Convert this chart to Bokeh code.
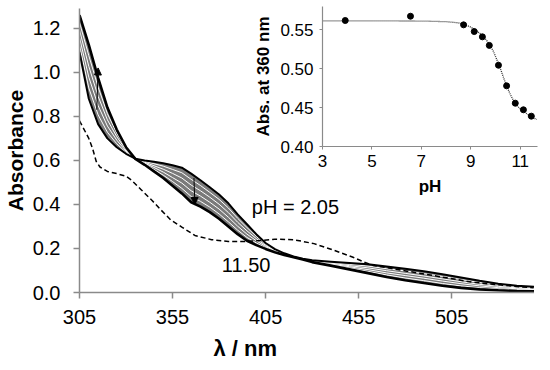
import math
from bokeh.plotting import figure
from bokeh.models import Range1d, FixedTicker, Label, Arrow, NormalHead, PrintfTickFormatter, Title
from bokeh.embed import file_html
from bokeh.resources import INLINE

# ---------------- data ----------------
wavelength = [305, 310, 315, 320, 325, 330, 335, 340, 345, 350, 355, 360, 365, 370,
              375, 380, 385, 390, 395, 400, 405, 410, 415, 420, 425, 430, 440, 450,
              460, 470, 480, 490, 500, 510, 520, 530, 540, 550]

abs_pH_2_05 = [1.09, 0.88, 0.765, 0.70, 0.66, 0.63, 0.608, 0.600, 0.594, 0.587, 0.578,
               0.567, 0.54, 0.51, 0.478, 0.445, 0.405, 0.355, 0.31, 0.265, 0.225, 0.197,
               0.178, 0.164, 0.153, 0.146, 0.140, 0.134, 0.128, 0.118, 0.108, 0.097,
               0.083, 0.068, 0.053, 0.040, 0.031, 0.026]

abs_pH_11_50 = [1.26, 1.125, 0.975, 0.84, 0.74, 0.66, 0.607, 0.58, 0.55, 0.52, 0.485,
                0.45, 0.41, 0.39, 0.365, 0.335, 0.30, 0.265, 0.235, 0.215, 0.198, 0.183,
                0.17, 0.16, 0.15, 0.138, 0.122, 0.105, 0.088, 0.070, 0.056, 0.043,
                0.031, 0.021, 0.014, 0.010, 0.007, 0.005]

abs_mid_1 = [1.124, 0.929, 0.807, 0.728, 0.676, 0.636, 0.608, 0.596, 0.585, 0.574, 0.559,
             0.544, 0.514, 0.486, 0.455, 0.423, 0.384, 0.337, 0.295, 0.255, 0.220, 0.194,
             0.176, 0.163, 0.152, 0.144, 0.136, 0.128, 0.120, 0.108, 0.098, 0.086,
             0.073, 0.059, 0.045, 0.034, 0.026, 0.022]
abs_mid_2 = [1.158, 0.978, 0.849, 0.756, 0.692, 0.642, 0.608, 0.592, 0.576, 0.560, 0.541,
             0.520, 0.488, 0.462, 0.433, 0.401, 0.363, 0.319, 0.280, 0.245, 0.214, 0.191,
             0.175, 0.162, 0.152, 0.143, 0.133, 0.122, 0.112, 0.099, 0.087, 0.075,
             0.062, 0.049, 0.037, 0.028, 0.021, 0.017]
abs_mid_3 = [1.192, 1.027, 0.891, 0.784, 0.708, 0.648, 0.607, 0.588, 0.568, 0.547, 0.522,
             0.497, 0.462, 0.438, 0.410, 0.379, 0.342, 0.301, 0.265, 0.235, 0.209, 0.189,
             0.173, 0.162, 0.151, 0.141, 0.129, 0.117, 0.104, 0.089, 0.077, 0.065,
             0.052, 0.040, 0.030, 0.022, 0.017, 0.013]
abs_mid_4 = [1.226, 1.076, 0.933, 0.812, 0.724, 0.654, 0.607, 0.584, 0.559, 0.533, 0.504,
             0.473, 0.436, 0.414, 0.388, 0.357, 0.321, 0.283, 0.250, 0.225, 0.203, 0.186,
             0.172, 0.161, 0.151, 0.140, 0.126, 0.111, 0.096, 0.080, 0.066, 0.054,
             0.041, 0.030, 0.022, 0.016, 0.012, 0.009]

dashed_wavelength = [305, 310, 312, 314, 316, 320, 325, 330, 333, 338, 344, 349, 354, 360,
                     367, 376, 385, 395, 402, 410, 420, 431, 441, 452, 458, 463, 481,
                     498, 516, 534, 549]
dashed_abs = [0.78, 0.70, 0.655, 0.595, 0.57, 0.55, 0.54, 0.528, 0.51, 0.468, 0.418,
              0.373, 0.33, 0.297, 0.259, 0.24, 0.232, 0.232, 0.236, 0.242, 0.24, 0.222,
              0.194, 0.16, 0.138, 0.123, 0.097, 0.073, 0.047, 0.032, 0.021]

inset_pH = [3.92, 6.56, 8.71, 9.14, 9.47, 9.75, 10.12, 10.45, 10.80, 11.13, 11.45]
inset_abs = [0.562, 0.5675, 0.5564, 0.5478, 0.541, 0.530, 0.5045, 0.478, 0.4557, 0.4472, 0.439]

fit_pH = [3, 5, 7, 8, 8.5, 8.75, 9, 9.25, 9.5, 9.65, 9.8, 9.92, 10.05, 10.19, 10.32,
          10.46, 10.6, 10.73, 10.87, 11.0, 11.27, 11.5, 11.67]
fit_abs = [0.5615, 0.5615, 0.5613, 0.5605, 0.559, 0.5568, 0.5535, 0.5485, 0.542, 0.536,
           0.529, 0.522, 0.512, 0.501, 0.489, 0.477, 0.467, 0.459, 0.4525, 0.4485, 0.442,
           0.4375, 0.4347]

x_ticks = [305, 355, 405, 455, 505]
y_ticks = [0.0, 0.2, 0.4, 0.6, 0.8, 1.0, 1.2]
inset_x_ticks = [3, 5, 7, 9, 11]
inset_y_ticks = [0.40, 0.45, 0.50, 0.55]

FONT = "Liberation Sans"
AXIS_GRAY = "#8a8a8a"

# ---------------- main plot ----------------
p = figure(width=534, height=368, x_range=Range1d(305, 549.5), y_range=Range1d(0, 1.29),
           output_backend="svg", toolbar_location=None,
           min_border_left=76, min_border_right=0, min_border_top=8, min_border_bottom=76)
p.outline_line_color = None
p.grid.visible = False
p.background_fill_color = None
p.border_fill_color = None

for ax in (p.xaxis[0], p.yaxis[0]):
    ax.axis_line_color = AXIS_GRAY
    ax.axis_line_width = 1.5
    ax.major_tick_line_color = AXIS_GRAY
    ax.major_tick_line_width = 1.5
    ax.major_tick_out = 6
    ax.major_tick_in = 0
    ax.minor_tick_line_color = None
    ax.major_label_text_font = FONT
    ax.major_label_text_font_size = "20px"
    ax.major_label_text_color = "black"
    ax.axis_label_text_font = FONT
    ax.axis_label_text_font_style = "bold"
    ax.axis_label_text_color = "black"

p.xaxis.ticker = FixedTicker(ticks=x_ticks)
p.xaxis.major_label_standoff = 11
p.yaxis.ticker = FixedTicker(ticks=y_ticks)
p.yaxis.formatter = PrintfTickFormatter(format="%.1f")
p.yaxis.major_label_standoff = 13
p.yaxis.axis_label = "Absorbance"
p.yaxis.axis_label_text_font_size = "21px"
p.yaxis.axis_label_standoff = 3

p.add_layout(Title(text="λ / nm", align="left", offset=134, standoff=14,
                   text_font=FONT, text_font_size="22px", text_font_style="bold",
                   text_color="black"), "below")

p.varea(x=wavelength, y1=abs_pH_2_05, y2=abs_pH_11_50, fill_color="#7a7a7a")
for mid in (abs_mid_1, abs_mid_2, abs_mid_3, abs_mid_4):
    p.line(wavelength, mid, line_color="white", line_width=1.0)
p.line(wavelength, abs_pH_2_05, line_color="black", line_width=2)
p.line(wavelength, abs_pH_11_50, line_color="black", line_width=2.6)
p.line(dashed_wavelength, dashed_abs, line_color="black", line_width=1.5, line_dash="5 3")

p.add_layout(Arrow(end=NormalHead(size=7, fill_color="black", line_color="black"),
                   x_start=314.3, y_start=0.83, x_end=315.0, y_end=1.02,
                   line_color="black", line_width=1))
p.add_layout(Arrow(end=NormalHead(size=7, fill_color="black", line_color="black"),
                   x_start=366.5, y_start=0.52, x_end=367.0, y_end=0.40,
                   line_color="black", line_width=1))

p.add_layout(Label(x=397.6, y=0.389, text="pH = 2.05", text_font=FONT, text_font_size="20px",
                   text_color="black", text_baseline="middle", text_align="left"))
p.add_layout(Label(x=381.5, y=0.124, text="11.50", text_font=FONT, text_font_size="20px",
                   text_color="black", text_baseline="middle", text_align="left"))

# ---------------- inset ----------------
q = figure(width=297, height=201, x_range=Range1d(3, 11.7), y_range=Range1d(0.40, 0.58),
           output_backend="svg", toolbar_location=None,
           min_border_left=77, min_border_right=5, min_border_top=6, min_border_bottom=55,
           styles={"position": "absolute", "left": "245px", "top": "0px"})
q.outline_line_color = None
q.grid.visible = False
q.background_fill_alpha = 0
q.border_fill_alpha = 0

for ax in (q.xaxis[0], q.yaxis[0]):
    ax.axis_line_color = AXIS_GRAY
    ax.axis_line_width = 1.2
    ax.major_tick_line_color = AXIS_GRAY
    ax.major_tick_out = 3
    ax.major_tick_in = 0
    ax.minor_tick_line_color = None
    ax.major_label_text_font = FONT
    ax.major_label_text_font_size = "17px"
    ax.major_label_text_color = "black"
    ax.axis_label_text_font = FONT
    ax.axis_label_text_font_size = "17px"
    ax.axis_label_text_font_style = "bold"
    ax.axis_label_text_color = "black"

q.xaxis.ticker = FixedTicker(ticks=inset_x_ticks)
q.xaxis.major_label_standoff = 5
q.xaxis.axis_label = "pH"
q.xaxis.axis_label_standoff = 7
q.yaxis.ticker = FixedTicker(ticks=inset_y_ticks)
q.yaxis.formatter = PrintfTickFormatter(format="%.2f")
q.yaxis.major_label_standoff = 6
q.yaxis.axis_label = "Abs. at 360 nm"
q.yaxis.axis_label_standoff = 4

q.line(fit_pH, fit_abs, line_color="#333333", line_width=1.3, line_dash="1 1")
q.scatter(inset_pH, inset_abs, size=6, color="black")

open("out.html", "w").write(file_html([p, q], INLINE))
